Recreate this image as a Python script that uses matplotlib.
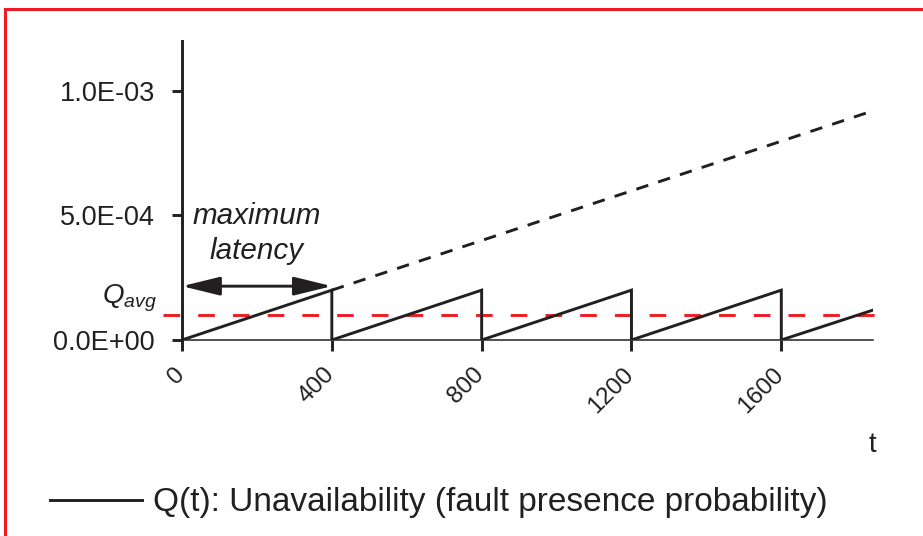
import matplotlib
matplotlib.use("Agg")
import matplotlib.pyplot as plt
from matplotlib.lines import Line2D
from matplotlib.patches import Rectangle
from matplotlib.transforms import ScaledTranslation

plt.rcParams['font.family'] = ['Liberation Sans', 'DejaVu Sans']
plt.rcParams['mathtext.fontset'] = 'custom'
plt.rcParams['mathtext.it'] = 'Liberation Sans:italic'
plt.rcParams['mathtext.rm'] = 'Liberation Sans'
plt.rcParams['lines.scale_dashes'] = False

# unavailability over time, reset at every test instant
t_values = [0, 400, 400, 800, 800, 1200, 1200, 1600, 1600, 1845]
q_values = [0, 2.0e-4, 0, 2.0e-4, 0, 2.0e-4, 0, 2.0e-4, 0, 1.2e-4]

# growth without testing
t_untested = [400, 1845]
q_untested = [2.0e-4, 9.2e-4]

q_avg = 1.0e-4
latency = [0, 400]
latency_level = 2.16e-4

x_ticks = [0, 400, 800, 1200, 1600]
y_ticks = [0, 5.0e-4, 1.0e-3]
y_tick_labels = ["0.0E+00", "5.0E-04", "1.0E-03"]

ink = '#231f20'
red = '#ed1c24'
lw = 2.1

fig = plt.figure(figsize=(9.23, 5.36), dpi=100)
ax = fig.add_axes([0.1972, 0.3657, 0.7487, 0.5578])

ax.plot(t_values, q_values, color=ink, lw=lw, solid_joinstyle='miter',
        label='Q(t): Unavailability (fault presence probability)', zorder=3)
ax.plot(t_untested, q_untested, color=ink, lw=lw, linestyle=(0, (9, 7.5)), zorder=3)
ax.plot([-50, 1850], [q_avg, q_avg], color=red, lw=lw, linestyle=(0, (12, 13)),
        clip_on=False, zorder=2)

ax.annotate('', xy=(latency[1], latency_level), xytext=(latency[0], latency_level),
            arrowprops=dict(arrowstyle='<|-|>,head_length=1.55,head_width=0.38',
                            mutation_scale=15, color=ink, lw=lw,
                            shrinkA=0, shrinkB=0), zorder=4)
ax.text(200, 4.64e-4, 'maximum', style='italic', fontsize=21.3, color=ink,
        ha='center', va='baseline')
ax.text(200, 3.24e-4, 'latency', style='italic', fontsize=21.3, color=ink,
        ha='center', va='baseline')
ax.text(-68, 1.48e-4, r'$Q_{avg}$', fontsize=20, color=ink,
        ha='right', va='baseline', clip_on=False)

ax.set_xlim(0, 1845)
ax.set_ylim(0, 1.2e-3)
ax.set_xticks(x_ticks)
ax.set_xticklabels([str(x) for x in x_ticks], rotation=45, ha='right',
                   fontsize=17.5, color=ink)
ax.set_yticks(y_ticks)
ax.set_yticklabels(y_tick_labels, fontsize=19.5, color=ink)
ax.tick_params(axis='y', length=7.5, width=lw, color=ink, pad=12)
ax.tick_params(axis='x', length=8, width=lw, color=ink, pad=9)
for lbl in ax.get_xticklabels():
    lbl.set_transform(lbl.get_transform() + ScaledTranslation(0.07, 0, fig.dpi_scale_trans))

ax.spines['top'].set_visible(False)
ax.spines['right'].set_visible(False)
ax.spines['left'].set_linewidth(lw)
ax.spines['left'].set_color(ink)
ax.spines['bottom'].set_linewidth(1.1)
ax.spines['bottom'].set_color(ink)

fig.text(872 / 923, 1 - 452 / 536, 't', fontsize=20, color=ink,
         ha='center', va='baseline')

handle = Line2D([], [], color=ink, lw=lw)
fig.legend([handle], ['Q(t): Unavailability (fault presence probability)'],
           loc='center left', bbox_to_anchor=(50 / 923, 1 - 503 / 536),
           frameon=False, fontsize=24, handlelength=2.75, handletextpad=0.33,
           borderpad=0, borderaxespad=0, labelcolor=ink)

# red frame around the figure
fig.patches.append(Rectangle((5 / 923, -0.2), 1.2, 1.2 - 9 / 536,
                             transform=fig.transFigure, fill=False,
                             edgecolor=red, lw=2.2))

fig.savefig('out.png', dpi=100)
